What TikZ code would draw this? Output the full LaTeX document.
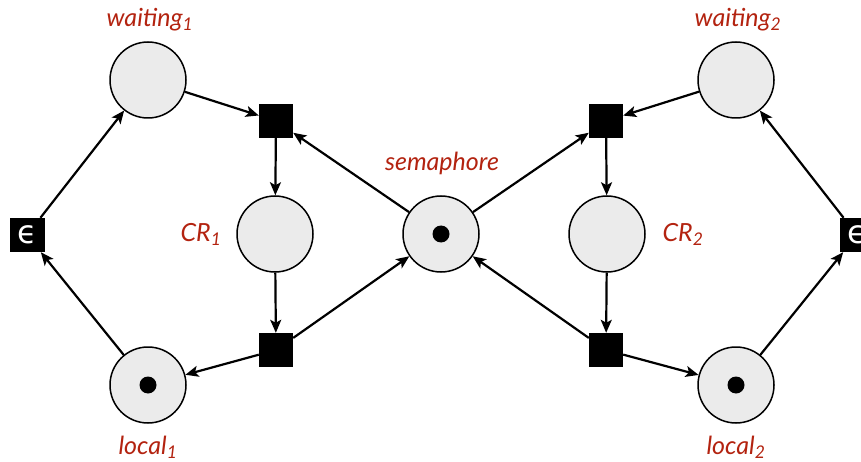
\documentclass[tikz,border=0pt]{standalone}
\usepackage{fontspec}
\setmainfont{Lato}
\newfontfamily\epsfont{DejaVu Sans}
\usetikzlibrary{arrows.meta}
\definecolor{lblred}{HTML}{B32310}
\definecolor{placefill}{HTML}{EBEBEB}
\tikzset{
  place/.style={circle,draw=black,line width=1.5pt,fill=placefill,minimum size=76pt,inner sep=0pt},
  trans/.style={rectangle,fill=black,minimum width=34pt,minimum height=34pt,inner sep=0pt},
  token/.style={circle,fill=black,minimum size=17pt,inner sep=0pt},
  lbl/.style={text=lblred,font=\fontsize{25}{27}\selectfont\itshape},
  arc/.style={-{Stealth[length=13pt,width=11pt,inset=3pt]},line width=2.2pt},
  epst/.style={text=white,font=\epsfont\fontsize{32}{34}\selectfont,inner sep=0pt}
}
\begin{document}
\begin{tikzpicture}[x=1pt,y=-1pt]
\useasboundingbox (0,0) rectangle (861,462);
% places
\node[place] (w1) at (148,80) {};
\node[place] (w2) at (736,80) {};
\node[place] (cr1) at (275,234) {};
\node[place] (cr2) at (607,234) {};
\node[place] (sem) at (441,234) {};
\node[place] (l1) at (148,385) {};
\node[place] (l2) at (736,385) {};
\node[token] (k1) at (l1) {};
\node[token] (k2) at (l2) {};
\node[token] (ks) at (sem) {};
% transitions
\node[trans] (t1) at (276,121) {};
\node[trans] (t2) at (276,350) {};
\node[trans] (t3) at (606,121) {};
\node[trans] (t4) at (606,350) {};
\node[trans,minimum width=35pt] (e1) at (27,235) {};
\node[trans,minimum width=35pt] (e2) at (857,235) {};
\node[epst] (e1l) at (e1) {ϵ};
\node[epst] (e2l) at (e2) {ϵ};
% labels
\node[lbl] (lw1) at (150,20) {waiting\textsubscript{1}};
\node[lbl] (lw2) at (738,20) {waiting\textsubscript{2}};
\node[lbl] (lcr1) at (201,234) {CR\textsubscript{1}};
\node[lbl] (lcr2) at (683,234) {CR\textsubscript{2}};
\node[lbl] (lsem) at (442,163) {semaphore};
\node[lbl] (ll1) at (148,447) {local\textsubscript{1}};
\node[lbl] (ll2) at (736,447) {local\textsubscript{2}};
% arcs
\draw[arc] (w1) -- (t1);
\draw[arc] (t1) -- (cr1);
\draw[arc] (cr1) -- (t2);
\draw[arc] (t2) -- (l1);
\draw[arc] (l1) -- (e1);
\draw[arc] (e1) -- (w1);
\draw[arc] (sem) -- (t1);
\draw[arc] (t2) -- (sem);
\draw[arc] (sem) -- (t3);
\draw[arc] (t4) -- (sem);
\draw[arc] (w2) -- (t3);
\draw[arc] (t3) -- (cr2);
\draw[arc] (cr2) -- (t4);
\draw[arc] (t4) -- (l2);
\draw[arc] (l2) -- (e2);
\draw[arc] (e2) -- (w2);
\end{tikzpicture}
\end{document}
